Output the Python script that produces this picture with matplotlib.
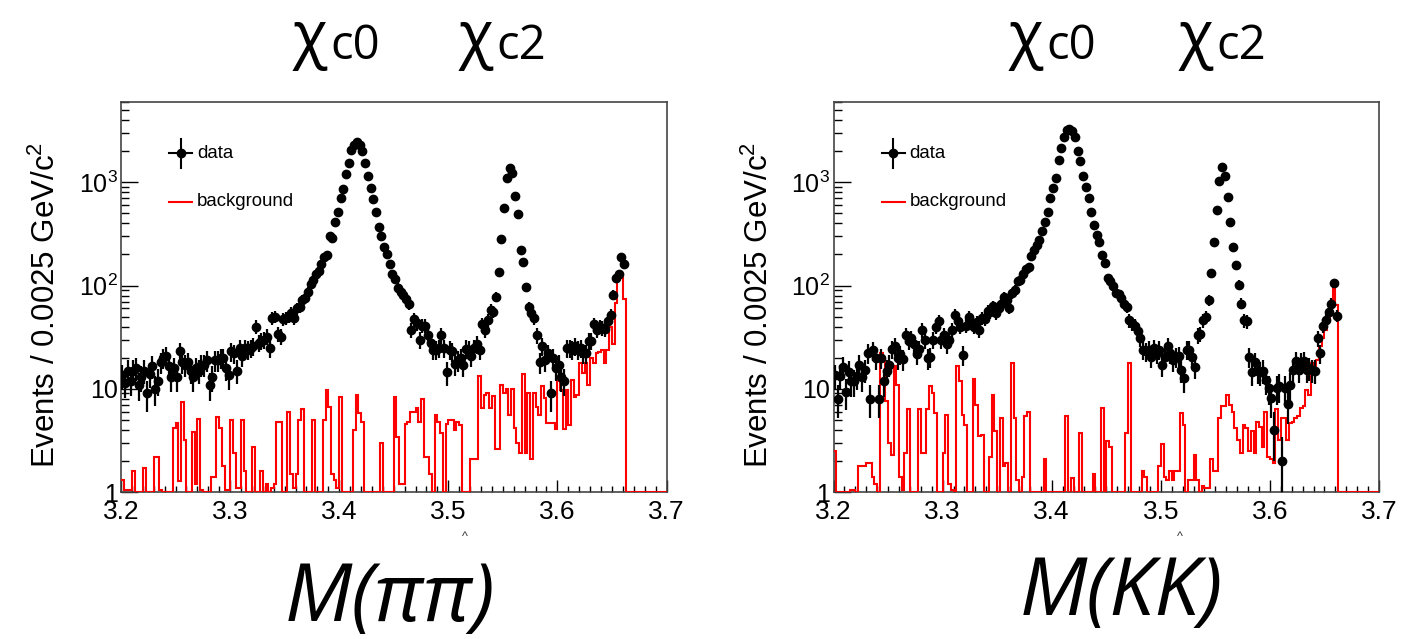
import numpy as np
import matplotlib
matplotlib.use("Agg")
import matplotlib.pyplot as plt
from matplotlib.lines import Line2D

W, H, DPI = 1416, 639, 100

x_lo, x_hi, bin_w = 3.2, 3.7, 0.0025
y_lo, y_hi = 1.0, 6000.0
x_ticks = [3.2, 3.3, 3.4, 3.5, 3.6, 3.7]
x_tick_labels = ["3.2", "3.3", "3.4", "3.5", "3.6", "3.7"]
y_ticks = [1, 10, 100, 1000]
y_tick_labels = ["1", "10", r"$10^{2}$", r"$10^{3}$"]
y_label = r"Events / 0.0025 GeV/c$^{2}$"
legend_labels = ["data", "background"]
peak_labels = [("\u03c7", "c0"), ("\u03c7", "c2")]
panel_titles = ["M(\u03c0\u03c0)", "M(KK)"]

# counts per 0.0025 GeV bin, starting at 3.2
pipi_data = [13.5, 11.5, 15, 12, 15, 16, 11, 13, 15, 9, 14, 16.5, 10, 12, 18, 20, 21, 16.5, 13, 16,
             13, 23, 18, 17, 18, 15, 13, 16, 15, 17, 17, 19, 11, 13, 19, 19, 20, 20, 16, 13.5,
             23, 22, 15, 25, 21, 25, 24, 25, 26, 40, 28,
             29, 30, 32, 25, 48, 50, 34, 32, 47, 48, 50, 54, 48, 60, 62, 73, 75, 87, 104, 113,
             128, 139, 160, 190, 198, 305, 290, 415, 515, 700, 860, 1200, 1550, 2040, 2300, 2480,
             2300, 2020, 1530, 1150, 890, 690, 515, 370, 300, 235, 200, 163, 130, 115, 95,
             87, 81, 74, 66, 37, 47, 43, 30, 41, 41, 33, 28, 24, 24, 25, 33, 25, 14.5, 24, 23,
             17.5, 19, 20, 17, 24.5, 24, 21, 25, 27, 24, 42, 37, 46, 58, 56, 78, 135, 280, 560,
             1090, 1390, 1220, 730, 490, 220, 168,
             97, 62, 54, 48, 33, 18, 26, 19, 22, 9, 20, 16, 17, 13, 12, 25, 25, 24, 26, 24,
             25, 22, 22, 29, 29, 42, 37, 40, 39, 38, 45, 52, 81, 118, 130, 188, 160]

kk_data = [13.5, 8, 13.3, 16.3, 9.3, 14.7, 11.8, 11.8, 13.3, 17, 13, 15.3, 22.2, 8, 23.5, 19.7, 8, 20,
           11.8, 15, 17, 24.4, 26, 19.8, 21.6, 19.4, 33, 29.3, 31, 27, 21.6, 24.4, 37, 29.5, 19.8,
           20.4, 30, 40, 45, 29.5, 33, 27, 29.5, 37, 52, 45, 40, 21.3, 41, 50,
           44, 40, 44, 37, 48, 47, 57, 55, 63, 54, 61, 67, 77, 72, 61, 84, 91, 110, 114, 130,
           145, 150, 192, 220, 245, 275, 340, 410, 515, 700, 880, 1100, 1630, 2170, 2740, 3200, 3300,
           3160, 2740, 2000, 1600, 1160, 908, 710, 520, 386, 309, 267, 198, 165, 118, 110, 98, 85,
           82, 75, 67, 62, 46, 43, 41, 36, 31, 24, 23, 24,
           20.5, 25, 22, 24, 17, 20.5, 26, 22, 19, 20.5, 21, 15.3, 12.6, 24, 24, 20.5, 16.4, 33,
           34, 46, 50, 72, 132, 267, 540, 1020, 1400, 1150, 726, 416, 236, 159, 102, 67, 46, 45,
           20.5, 14.5, 18, 15, 14.5, 15, 12.2, 10.1, 8.1, 4.0, 10.1, 10.6, 2.0, 10.1, 7.2, 10.8,
           15.3, 18.5, 15.3, 17.8, 18.5, 15.3, 16, 15.3, 15, 31, 22, 41, 46, 56, 67, 106, 51]

pipi_bkg = [1.3, 1.05, 1.05, 1.05, 1.6, 0, 0, 0, 1.7, 0, 0, 0, 2.2, 2.2, 1.05, 0, 0, 0, 0, 4.2,
            4.65, 1.27, 7.4, 3.2, 0, 0, 3.8, 1.2, 5.1, 1.05, 0, 0, 0, 1.4, 1.4, 5.3, 4.2, 1.8, 1.05, 1.05,
            5.0, 2.4, 1.1, 1.1, 5.0, 1.6, 0, 0, 2.7, 0,
            0, 1.6, 0, 1.2, 0, 1.1, 1.2, 4.8, 4.8, 0, 0, 6.0, 1.5, 1.1, 1.5, 5.0, 6.3, 0, 0, 0,
            5.0, 0, 0, 0, 5.0, 9.7, 6.7, 1.5, 1.3, 1.1, 8.4, 0, 0, 0, 0, 4.0, 8.7, 5.8, 4.8, 0,
            0, 0, 0, 0, 0, 3.0, 0, 0, 0, 0,
            8.3, 3.4, 1.2, 1.2, 4.6, 4.8, 6.0, 6.0, 6.5, 4.8, 8.0, 2.2, 2.2, 1.5, 0, 5.6, 4.8, 3.7, 0, 4.6,
            5.0, 5.0, 4.0, 4.8, 4.5, 0, 0, 0, 2.1, 2.1, 2.1, 13.3, 6.5, 8.8, 9.0, 6.5, 8.5, 2.6, 2.6, 11.0,
            9.0, 10.0, 5.6, 10.0, 4.2, 3.0, 2.4, 14.0, 2.4,
            9.0, 2.1, 9.0, 6.7, 5.6, 10.6, 8.1, 4.7, 4.7, 4.7, 4.1, 11.9, 9.7, 4.1, 9.7, 4.5, 12.2, 8.4,
            8.7, 17.6, 14.1, 17.6, 10.9, 19.7, 17.6, 22.0, 22.9, 24.0, 17.8, 24.0, 40.0, 27.0, 68.0,
            118.0, 118.0, 74.0,
            0, 0, 0, 0, 0, 0, 0, 0, 0, 0, 0, 0, 0, 0, 0]

kk_bkg = [2.5, 0, 0, 0, 0, 0, 1.05, 1.05, 0, 1.8, 1.8, 1.8, 1.9, 1.9, 1.4, 1.2, 0, 22.0, 18.5, 7.6,
          3.0, 2.3, 16.5, 11.0, 1.4, 1.05, 2.4, 6.3, 0, 0, 0, 6.3, 2.4, 2.4, 6.3, 10.6, 9.1, 5.8, 0, 0,
          2.4, 5.6, 1.2, 1.05, 0, 16.5, 11.8, 5.6, 4.5, 0,
          0, 12.3, 7.0, 3.5, 3.6, 0, 0, 2.2, 8.8, 3.9, 0, 5.2, 1.8, 1.9, 0, 17.8, 5.2, 1.3, 0, 1.4,
          5.4, 5.9, 0, 0, 0, 0, 0, 2.1, 0, 0, 0, 0, 0, 0, 0, 5.4, 0, 1.37, 0, 0,
          3.7, 0, 0, 0, 0, 1.5, 0, 0, 6.5, 0,
          3.1, 2.7, 0, 0, 0, 0, 0, 3.7, 17.8, 0, 0, 0, 0, 1.6, 1.4, 0, 0, 0, 0, 1.8,
          2.9, 1.4, 1.3, 1.6, 1.3, 1.6, 1.6, 5.8, 4.5, 0, 1.3, 1.3, 2.3, 1.3, 0, 1.15, 1.1, 1.1, 2.1, 1.6,
          1.6, 5.2, 6.8, 6.8, 8.8, 7.0, 6.0, 4.2, 3.2, 2.4,
          4.5, 4.2, 2.5, 3.9, 2.4, 4.8, 4.3, 2.7, 6.0, 2.2, 2.1, 1.9, 6.3, 3.2, 5.2, 5.2, 3.2, 4.7,
          4.8, 5.2, 5.4, 6.5, 6.8, 9.8, 8.8, 17.8, 13.7, 19.2, 25.8, 31.0, 37.5, 46.7, 65.0, 100.0, 65.0,
          0, 0, 0, 0, 0, 0, 0, 0, 0, 0, 0, 0, 0, 0, 0]

plt.rcParams["font.family"] = ["Liberation Sans", "DejaVu Sans"]
plt.rcParams["mathtext.fontset"] = "custom"
plt.rcParams["mathtext.rm"] = "Liberation Sans"
plt.rcParams["mathtext.it"] = "Liberation Sans:italic"

fig = plt.figure(figsize=(W / DPI, H / DPI), dpi=DPI)
fig.patch.set_facecolor("white")


def fx(px):
    return px / W


def fy(py):
    return 1 - py / H


def make_axes(left, top, right, bottom):
    return fig.add_axes([fx(left), fy(bottom), (right - left) / W, (bottom - top) / H])


panels = [
    (make_axes(121, 102, 666.5, 492), pipi_data, pipi_bkg, 46, 121, 465),
    (make_axes(833.5, 102, 1379, 492), kk_data, kk_bkg, 759, 833.5, 1180),
]

edges = x_lo + bin_w * np.arange(201)
MS = 6.0

for ax, data, bkg, ylab_x, ax_left, caret_x in panels:
    data = np.asarray(data, float)
    bkg = np.asarray(bkg, float)
    centers = x_lo + bin_w * (np.arange(len(data)) + 0.5)
    ax.set_yscale("log")
    ax.set_xlim(x_lo, x_hi)
    ax.set_ylim(y_lo, y_hi)

    bk = np.where(bkg > 0, bkg, y_lo)
    ax.stairs(bk, edges, color="#ff0000", lw=1.5, baseline=None, zorder=3)
    ax.errorbar(centers, data, yerr=np.sqrt(data), fmt="o", color="black",
                ms=MS, elinewidth=1.6, capsize=0, zorder=4)

    ax.set_xticks(x_ticks)
    ax.set_xticklabels(x_tick_labels)
    ax.set_xticks(np.arange(3.2, 3.7001, 0.01), minor=True)
    ax.set_yticks(y_ticks)
    ax.set_yticklabels(y_tick_labels)
    ax.tick_params(axis="x", which="major", direction="in", length=9, width=1.0,
                   labelsize=19, pad=6, top=False)
    ax.tick_params(axis="x", which="minor", direction="in", length=4.5, width=1.0, top=False)
    ax.tick_params(axis="y", which="major", direction="in", length=12, width=1.0,
                   labelsize=18, pad=2.5, right=False)
    ax.tick_params(axis="y", which="minor", direction="in", length=6, width=1.0, right=False,
                   labelleft=False)
    for sp in ax.spines.values():
        sp.set_color("#444444")
        sp.set_linewidth(1.2)

    # legend (drawn by hand, ROOT style)
    def axp(px, py):
        return ((px - ax_left) / 545.5, (492 - py) / 390.0)

    sx, sy = axp(ax_left + 59.6, 153)
    x0, _ = axp(ax_left + 48, 153)
    x1, _ = axp(ax_left + 71, 153)
    _, ytop = axp(0, 139)
    _, ybot = axp(0, 168)
    ax.add_line(Line2D([x0, x1], [sy, sy], color="black", lw=1.5, transform=ax.transAxes, clip_on=False))
    ax.add_line(Line2D([sx, sx], [ybot, ytop], color="black", lw=1.5, transform=ax.transAxes, clip_on=False))
    ax.plot([sx], [sy], "o", color="black", ms=MS, transform=ax.transAxes)
    tx, _ = axp(ax_left + 76, 153)
    ax.text(tx, sy, legend_labels[0], transform=ax.transAxes, fontsize=13.4, va="center", ha="left")
    r0, ry = axp(ax_left + 48, 201.5)
    r1, _ = axp(ax_left + 71, 201.5)
    ax.add_line(Line2D([r0, r1], [ry, ry], color="#ff0000", lw=1.5, transform=ax.transAxes))
    ax.text(tx, ry, legend_labels[1], transform=ax.transAxes, fontsize=13.4, va="center", ha="left")

    fig.text(fx(ylab_x), fy(305), y_label, rotation=90, ha="center", va="center", fontsize=22.5)
    # clipped remnant of the hidden x-axis title
    fig.text(fx(caret_x), fy(537), "^", ha="center", va="center", fontsize=9, color="#333333")

# big slide annotations
title_font = ["Open Sans", "DejaVu Sans"]
for (chi_x, sub_x), (chi, sub) in zip([(310, 355), (476, 521), (1026, 1071), (1196, 1241)],
                                      peak_labels * 2):
    fig.text(fx(chi_x), fy(39), chi, fontsize=46, family=title_font, ha="center", va="center")
    fig.text(fx(sub_x), fy(46), sub, fontsize=34, family=title_font, ha="center", va="center")

for cx, cy, t in zip([390, 1121], [600, 594], panel_titles):
    fig.text(fx(cx), fy(cy), t, fontsize=58, family=title_font, style="italic",
             ha="center", va="center")

fig.savefig("out.png", dpi=DPI, facecolor="white")
